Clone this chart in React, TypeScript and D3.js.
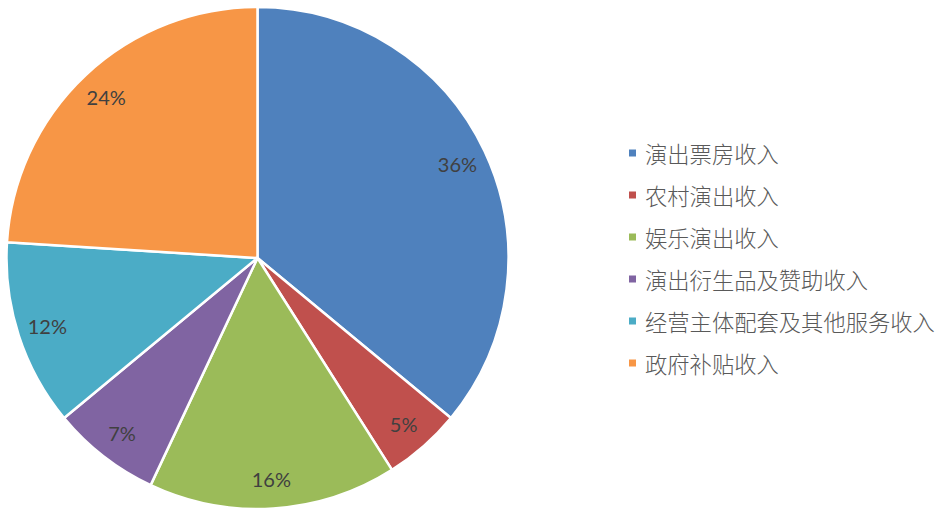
import * as d3 from 'd3';

const categories = [
  '演出票房收入',
  '农村演出收入',
  '娱乐演出收入',
  '演出衍生品及赞助收入',
  '经营主体配套及其他服务收入',
  '政府补贴收入',
];
const shares = [36, 5, 16, 7, 12, 24];
const labels = ['36%', '5%', '16%', '7%', '12%', '24%'];
const colors = ['#4F81BD', '#C0504D', '#9BBB59', '#8064A2', '#4BACC6', '#F79646'];

const W = 941;
const H = 511;
const cx = 257.5;
const cy = 258;
const R = 251;
const labelR = 221;

type Row = { name: string; value: number; label: string; color: string };
const rows: Row[] = categories.map((name, i) => ({
  name,
  value: shares[i],
  label: labels[i],
  color: colors[i],
}));

export default function App() {
  const pie = d3.pie<Row>().sort(null).value((d) => d.value);
  const arcs = pie(rows);
  const arc = d3.arc<d3.PieArcDatum<Row>>().innerRadius(0).outerRadius(R);
  const labelArc = d3.arc<d3.PieArcDatum<Row>>().innerRadius(labelR).outerRadius(labelR);

  const legendY = d3.scalePoint<string>().domain(categories).range([153, 363]);

  return (
    <div style={{ position: 'absolute', left: 0, top: 0 }}>
      <svg width={W} height={H} style={{ display: 'block', background: '#fff' }}>
        <g transform={`translate(${cx},${cy})`}>
          {arcs.map((a, i) => (
            <path key={i} d={arc(a) ?? ''} fill={a.data.color} stroke="#fff" strokeWidth={2.5} strokeLinejoin="round" />
          ))}
          {arcs.map((a, i) => {
            const [x, y] = labelArc.centroid(a);
            return (
              <text
                key={i}
                x={x}
                y={y}
                textAnchor="middle"
                dominantBaseline="central"
                fontFamily="Lato, 'Open Sans', sans-serif"
                fontSize={20}
                fill="#404040"
              >
                {a.data.label}
              </text>
            );
          })}
        </g>
        <g>
          {rows.map((r) => {
            const y = legendY(r.name) ?? 0;
            return (
              <g key={r.name} transform={`translate(629,${y})`}>
                <rect x={0} y={-3.5} width={7} height={7} fill={r.color} />
                <text
                  x={16}
                  y={0}
                  dominantBaseline="central"
                  fontFamily="'Noto Sans CJK SC', sans-serif"
                  fontSize={22.3}
                  fontWeight={300}
                  fill="#595959"
                >
                  {r.name}
                </text>
              </g>
            );
          })}
        </g>
      </svg>
    </div>
  );
}
